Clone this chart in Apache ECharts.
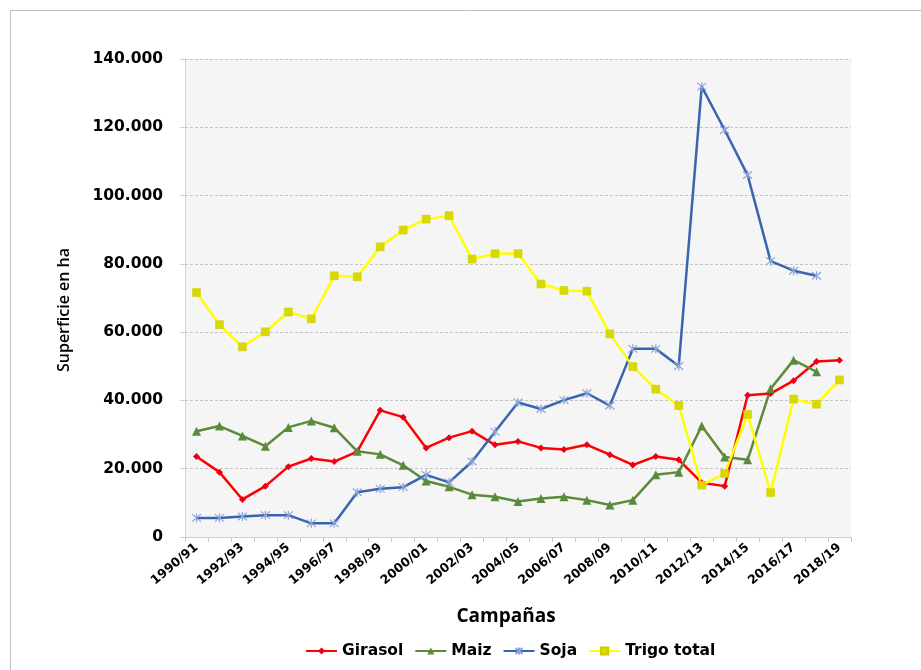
<!DOCTYPE html>
<html>
<head>
<meta charset="utf-8">
<script src="https://cdn.jsdelivr.net/npm/echarts@6/dist/echarts.min.js"></script>
<style>
  html, body { margin: 0; padding: 0; background: #ffffff; }
  #chart { width: 921px; height: 670px; }
</style>
</head>
<body>
<div id="chart"></div>
<script>
// Campaigns (harvest seasons)
const campanas = [
  '1990/91','1991/92','1992/93','1993/94','1994/95','1995/96','1996/97','1997/98',
  '1998/99','1999/00','2000/01','2001/02','2002/03','2003/04','2004/05','2005/06',
  '2006/07','2007/08','2008/09','2009/10','2010/11','2011/12','2012/13','2013/14',
  '2014/15','2015/16','2016/17','2017/18','2018/19'
];

// Sown area in hectares per crop
const girasol = [
  23600, 19000, 11000, 14900, 20600, 23000, 22100, 25000, 37100, 35100,
  26100, 29100, 31000, 27000, 28000, 26100, 25600, 27000, 24100, 21100,
  23600, 22600, 15900, 14900, 41500, 42000, 45800, 51400, 51800
];
const maiz = [
  31000, 32500, 29600, 26600, 32100, 34000, 32000, 25100, 24200, 21000,
  16400, 14700, 12400, 11800, 10400, 11300, 11800, 10800, 9400, 10800,
  18200, 19000, 32500, 23400, 22600, 43400, 51800, 48400, null
];
const soja = [
  5600, 5600, 6000, 6400, 6400, 4000, 4000, 13100, 14100, 14600,
  18200, 16000, 22100, 30800, 39400, 37500, 40100, 42100, 38500, 55100,
  55100, 50100, 131900, 119200, 106000, 80800, 78000, 76500, null
];
const trigo = [
  71600, 62200, 55700, 60100, 65900, 63900, 76500, 76200, 85000, 89900,
  93100, 94100, 81400, 83000, 83000, 74100, 72200, 72000, 59500, 49900,
  43300, 38500, 15200, 18600, 35900, 13000, 40400, 38900, 46000
];

const fmtMiles = v => v === 0 ? '0' : v.toLocaleString('de-DE');

const chart = echarts.init(document.getElementById('chart'), null, { renderer: 'canvas' });

const asterisco = 'path://M0,0L10,10M10,0L0,10M5,-1L5,11';

chart.setOption({
  animation: false,
  backgroundColor: '#ffffff',
  graphic: [
    {
      type: 'rect',
      shape: { x: 10.5, y: 10.5, width: 940, height: 700 },
      style: { fill: 'none', stroke: '#bfbfbf', lineWidth: 1 },
      silent: true, z: -10
    },
    {
      // vertical axis title
      type: 'text',
      x: 64, y: 310, rotation: Math.PI / 2,
      style: {
        text: 'Superficie en ha',
        fontFamily: 'Open Sans', fontWeight: 600, fontSize: 16, fill: '#000000',
        align: 'center', verticalAlign: 'middle'
      },
      silent: true
    }
  ],
  grid: {
    left: 185, right: 70, top: 59, bottom: 133,
    show: true, backgroundColor: '#f5f5f5', borderWidth: 0
  },
  legend: {
    bottom: 6, left: 300,
    itemWidth: 31, itemHeight: 9, itemGap: 11,
    textStyle: { fontFamily: 'DejaVu Sans', fontWeight: 'bold', fontSize: 15.5, color: '#000000' },
    data: ['Girasol', 'Maiz', 'Soja', 'Trigo total']
  },
  xAxis: {
    type: 'category',
    data: campanas,
    boundaryGap: true,
    name: 'Campañas',
    nameLocation: 'middle',
    nameGap: 70,
    nameTextStyle: {
      fontFamily: 'Open Sans', fontWeight: 'bold', fontSize: 19, color: '#000000',
      padding: [0, 24, 0, 0]
    },
    axisLine: { lineStyle: { color: '#d0d0d0', width: 1 } },
    axisTick: { show: true, length: 5, interval: 0, lineStyle: { color: '#c8c8c8' } },
    axisLabel: {
      interval: 1, rotate: 40, margin: 9,
      fontFamily: 'DejaVu Sans', fontWeight: 'bold', fontSize: 12.5, color: '#000000'
    }
  },
  yAxis: {
    type: 'value',
    min: 0, max: 140000, interval: 20000,
    axisLine: { show: true, lineStyle: { color: '#d0d0d0', width: 1 } },
    axisTick: { show: true, length: 5, lineStyle: { color: '#d0d0d0' } },
    splitLine: { lineStyle: { color: '#c4c4c4', type: [3, 2], width: 1 } },
    axisLabel: {
      margin: 22, formatter: fmtMiles,
      fontFamily: 'DejaVu Sans', fontWeight: 'bold', fontSize: 15.5, color: '#000000'
    }
  },
  series: [
    {
      name: 'Girasol', type: 'line', data: girasol,
      color: '#ff0000',
      symbol: 'diamond', symbolSize: 7,
      lineStyle: { color: '#ff0000', width: 2.5 },
      itemStyle: { color: '#e8001a' }
    },
    {
      name: 'Maiz', type: 'line', data: maiz,
      color: '#5a8a3a',
      symbol: 'triangle', symbolSize: 9,
      lineStyle: { color: '#5a8a3a', width: 2.5 },
      itemStyle: { color: '#5a8a3a' }
    },
    {
      name: 'Soja', type: 'line', data: soja,
      color: '#3a63b0',
      symbol: asterisco, symbolSize: 9,
      lineStyle: { color: '#3a63b0', width: 2.5 },
      itemStyle: { color: 'rgba(0,0,0,0)', borderColor: '#8aa5d8', borderWidth: 1.2 }
    },
    {
      name: 'Trigo total', type: 'line', data: trigo,
      color: '#ffff00',
      symbol: 'rect', symbolSize: 8,
      lineStyle: { color: '#ffff00', width: 2.5 },
      itemStyle: { color: '#d9d900', borderColor: '#cccc00', borderWidth: 0.5 }
    }
  ]
});
</script>
</body>
</html>
